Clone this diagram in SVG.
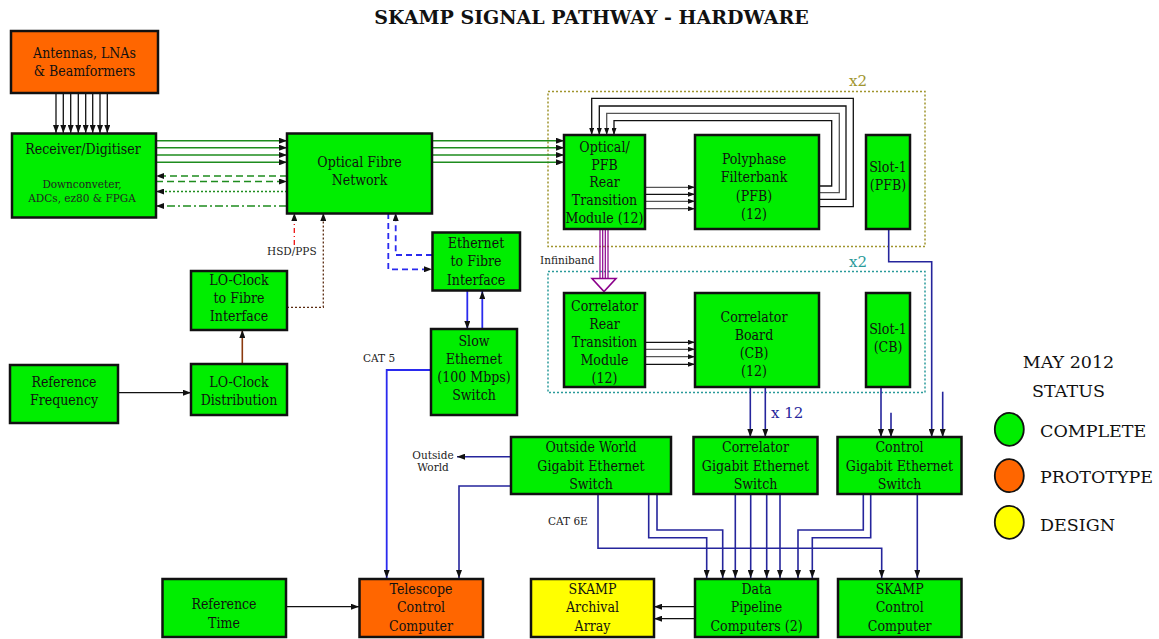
<svg xmlns="http://www.w3.org/2000/svg" width="1159" height="639" viewBox="0 0 1159 639">
<defs>
<style>
.box{stroke:#111;stroke-width:2.5}
.g{fill:#00ee00}
.o{fill:#ff6600}
.y{fill:#ffff00}
.t{font-family:"DejaVu Serif","Liberation Serif",serif;font-stretch:condensed;font-size:14px;fill:#111;text-anchor:middle}
.s{font-family:"DejaVu Serif","Liberation Serif",serif;font-size:10.5px;fill:#222}
.lg{font-family:"DejaVu Serif","Liberation Serif",serif;font-size:17.5px;fill:#111}
.blk{fill:none;stroke:#111;stroke-width:1.3}
.gry{fill:none;stroke:#555;stroke-width:1.3}
.grn{fill:none;stroke:#1e8c1e;stroke-width:1.5}
.blu{fill:none;stroke:#2a2aee;stroke-width:1.8}
.nav{fill:none;stroke:#25259c;stroke-width:1.6}
</style>
<marker id="ah" viewBox="0 0 8 6" refX="8" refY="3" markerWidth="8" markerHeight="6" markerUnits="userSpaceOnUse" orient="auto">
<path d="M0,0 L8,3 L0,6 z" fill="#111"/>
</marker>
<marker id="ahs" viewBox="0 0 7 5" refX="7" refY="2.5" markerWidth="7" markerHeight="5" markerUnits="userSpaceOnUse" orient="auto">
<path d="M0,0 L7,2.5 L0,5 z" fill="#111"/>
</marker>
</defs>
<rect width="1159" height="639" fill="#fff"/>
<text x="591.5" y="24" font-family="DejaVu Serif, Liberation Serif, serif" font-weight="bold" font-size="19" text-anchor="middle" fill="#111">SKAMP SIGNAL PATHWAY - HARDWARE</text>

<g id="groups">
<rect x="548" y="91.5" width="377" height="155" fill="none" stroke="#a0952e" stroke-width="1.5" stroke-dasharray="2,2"/>
<text x="858" y="86" font-family="DejaVu Serif, serif" font-size="15" fill="#a0952e" text-anchor="middle">x2</text>
<rect x="548" y="271.5" width="377" height="121" fill="none" stroke="#2a9a9a" stroke-width="1.5" stroke-dasharray="2,2"/>
<text x="858" y="267" font-family="DejaVu Serif, serif" font-size="15" fill="#2a9a9a" text-anchor="middle">x2</text>
</g>

<g id="connectors">
<g class="blk" marker-end="url(#ah)">
<line x1="56" y1="93" x2="56" y2="133"/><line x1="63.3" y1="93" x2="63.3" y2="133"/><line x1="70.7" y1="93" x2="70.7" y2="133"/><line x1="78.3" y1="93" x2="78.3" y2="133"/>
<line x1="85.7" y1="93" x2="85.7" y2="133"/><line x1="92.7" y1="93" x2="92.7" y2="133"/><line x1="100" y1="93" x2="100" y2="133"/><line x1="107.3" y1="93" x2="107.3" y2="133"/>
</g>
<g class="grn" marker-end="url(#ah)">
<line x1="156" y1="140.7" x2="287" y2="140.7"/><line x1="156" y1="147.7" x2="287" y2="147.7"/><line x1="156" y1="155" x2="287" y2="155"/><line x1="156" y1="162.3" x2="287" y2="162.3"/>
<line x1="287" y1="176" x2="156" y2="176" stroke-dasharray="7,4"/>
<line x1="156" y1="181.5" x2="287" y2="181.5" stroke-dasharray="7,4"/>
<line x1="287" y1="191.5" x2="156" y2="191.5" stroke-dasharray="2,2"/>
<line x1="287" y1="206" x2="156" y2="206" stroke-dasharray="8,3,2,3"/>
<line x1="432" y1="140.7" x2="564" y2="140.7"/><line x1="432" y1="147.7" x2="564" y2="147.7"/><line x1="432" y1="155" x2="564" y2="155"/><line x1="432" y1="162.3" x2="564" y2="162.3"/>
</g>
<line x1="294.3" y1="245" x2="294.3" y2="213" fill="none" stroke="#ee1111" stroke-width="1.3" stroke-dasharray="5,3,1,3" marker-end="url(#ah)"/>
<polyline points="287,307.3 323.3,307.3 323.3,213" fill="none" stroke="#5a2a10" stroke-width="1.3" stroke-dasharray="2,2" marker-end="url(#ah)"/>
<line x1="242.3" y1="364" x2="242.3" y2="330" fill="none" stroke="#8b3a0f" stroke-width="1.6" marker-end="url(#ah)"/>
<line x1="118" y1="392.7" x2="191" y2="392.7" class="blk" stroke-width="1.6" marker-end="url(#ah)"/>
<polyline points="388.3,213 388.3,269.3 432,269.3" class="blu" stroke-dasharray="6,4" marker-end="url(#ah)"/>
<polyline points="432,255 395.7,255 395.7,213" class="blu" stroke-dasharray="6,4" marker-end="url(#ah)"/>
<line x1="467.3" y1="291" x2="467.3" y2="329" class="blu" marker-end="url(#ah)"/>
<line x1="482.3" y1="329" x2="482.3" y2="291" class="blu" marker-end="url(#ah)"/>
<polyline points="431,370 386.7,370 386.7,578" class="blu" stroke-width="1.6" marker-end="url(#ah)"/>
<g marker-end="url(#ahs)">
<line x1="645" y1="187.3" x2="695" y2="187.3" class="gry"/><line x1="645" y1="194.3" x2="695" y2="194.3" class="blk"/>
<line x1="645" y1="201.3" x2="695" y2="201.3" class="gry"/><line x1="645" y1="208.7" x2="695" y2="208.7" class="gry"/>
<polyline points="819,186 831.7,186 831.7,120.7 614,120.7 614,135" class="blk"/>
<polyline points="819,192.7 839.3,192.7 839.3,113.3 606.7,113.3 606.7,135" class="gry"/>
<polyline points="819,199.3 846,199.3 846,106 599.3,106 599.3,135" class="blk"/>
<polyline points="819,206.7 853.3,206.7 853.3,98.3 591.7,98.3 591.7,135" class="blk"/>
<line x1="645" y1="342.3" x2="695" y2="342.3" class="blk"/><line x1="645" y1="349.3" x2="695" y2="349.3" class="gry"/>
<line x1="645" y1="356.7" x2="695" y2="356.7" class="gry"/><line x1="645" y1="364.3" x2="695" y2="364.3" class="blk"/>
</g>
<g stroke="#8b008b" stroke-width="1.2" fill="none">
<line x1="600" y1="229" x2="600" y2="279"/><line x1="602.7" y1="229" x2="602.7" y2="279"/><line x1="605.3" y1="229" x2="605.3" y2="279"/><line x1="608" y1="229" x2="608" y2="279"/>
<polygon points="592,278.5 616,278.5 604,291.5" fill="#fff" stroke-width="1.6"/>
</g>
<g class="nav" marker-end="url(#ah)">
<line x1="750.3" y1="387" x2="750.3" y2="437"/><line x1="765.3" y1="387" x2="765.3" y2="437"/>
<line x1="881" y1="387" x2="881" y2="437"/><line x1="891" y1="412.7" x2="891" y2="437"/>
<polyline points="888.7,229 888.7,261.7 931.7,261.7 931.7,437"/>
<line x1="942.7" y1="391.7" x2="942.7" y2="437"/>
<line x1="511" y1="456.7" x2="457" y2="456.7"/>
<polyline points="511,486 459,486 459,578"/>
<polyline points="598,494 598,548.3 881.7,548.3 881.7,578"/>
<polyline points="648.7,494 648.7,537.7 706.7,537.7 706.7,578"/>
<polyline points="657,494 657,530 722.7,530 722.7,578"/>
<line x1="735.3" y1="494" x2="735.3" y2="578"/><line x1="750.7" y1="494" x2="750.7" y2="578"/>
<line x1="766.7" y1="494" x2="766.7" y2="578"/><line x1="780" y1="494" x2="780" y2="578"/>
<polyline points="863.3,494 863.3,530 798,530 798,578"/>
<polyline points="870.7,494 870.7,537.7 812.3,537.7 812.3,578"/>
<line x1="917.3" y1="494" x2="917.3" y2="578"/>
</g>
<g class="blk" stroke-width="1.6" marker-end="url(#ah)">
<line x1="695" y1="606.7" x2="654" y2="606.7"/><line x1="695" y1="618.7" x2="654" y2="618.7"/>
<line x1="286" y1="606.7" x2="359" y2="606.7"/>
</g>
</g>

<g id="labels">
<text class="s" x="267" y="255">HSD/PPS</text>
<text class="s" x="540" y="264">Infiniband</text>
<text class="s" x="363" y="362">CAT 5</text>
<text class="s" x="548" y="525">CAT 6E</text>
<text class="s" x="433" y="459" text-anchor="middle">Outside</text>
<text class="s" x="433" y="471" text-anchor="middle">World</text>
<text x="771" y="418" font-family="DejaVu Serif, serif" font-size="15" fill="#25259c">x 12</text>
</g>

<g id="antennas"><rect class="box o" x="11" y="31" width="147" height="62"/>
<text class="t" x="84.5" y="58">Antennas, LNAs</text><text class="t" x="84.5" y="76">&amp; Beamformers</text></g>
<g id="receiver"><rect class="box g" x="12" y="133.5" width="144" height="84"/>
<text class="t" x="83" y="154">Receiver/Digitiser</text>
<text class="s" x="82" y="187.5" text-anchor="middle" font-size="10">Downconveter,</text><text class="s" x="82" y="202" text-anchor="middle" font-size="10">ADCs, ez80 &amp; FPGA</text></g>
<g id="optical"><rect class="box g" x="287" y="133.5" width="145" height="80"/>
<text class="t" x="359.5" y="167">Optical Fibre</text><text class="t" x="359.5" y="184.5">Network</text></g>
<g id="pfb-rtm"><rect class="box g" x="564" y="135" width="81" height="94"/>
<text class="t" x="604.5" y="151.5">Optical/</text><text class="t" x="604.5" y="169.5">PFB</text><text class="t" x="604.5" y="187">Rear</text><text class="t" x="604.5" y="205">Transition</text><text class="t" x="604.5" y="223">Module (12)</text></g>
<g id="pfb"><rect class="box g" x="695" y="135" width="124" height="94"/>
<text class="t" x="754" y="164.3">Polyphase</text><text class="t" x="754" y="182.3">Filterbank</text><text class="t" x="754" y="200.7">(PFB)</text><text class="t" x="754" y="218.7">(12)</text></g>
<g id="slot-pfb"><rect class="box g" x="866" y="135" width="44" height="94"/>
<text class="t" x="888" y="171.7">Slot-1</text><text class="t" x="888" y="189.7">(PFB)</text></g>
<g id="corr-rtm"><rect class="box g" x="564" y="293" width="81" height="94"/>
<text class="t" x="604.5" y="311">Correlator</text><text class="t" x="604.5" y="329.3">Rear</text><text class="t" x="604.5" y="347">Transition</text><text class="t" x="604.5" y="365">Module</text><text class="t" x="604.5" y="383">(12)</text></g>
<g id="cb"><rect class="box g" x="695" y="293" width="124" height="94"/>
<text class="t" x="754" y="322.3">Correlator</text><text class="t" x="754" y="340.3">Board</text><text class="t" x="754" y="358.3">(CB)</text><text class="t" x="754" y="376.3">(12)</text></g>
<g id="slot-cb"><rect class="box g" x="866" y="293" width="44" height="94"/>
<text class="t" x="888" y="334.3">Slot-1</text><text class="t" x="888" y="352">(CB)</text></g>
<g id="eth-fibre"><rect class="box g" x="432.5" y="232.5" width="87.5" height="58"/>
<text class="t" x="476" y="248.3">Ethernet</text><text class="t" x="476" y="266.3">to Fibre</text><text class="t" x="476" y="285.3">Interface</text></g>
<g id="slow-eth"><rect class="box g" x="431" y="329" width="86" height="86"/>
<text class="t" x="474" y="346">Slow</text><text class="t" x="474" y="364">Ethernet</text><text class="t" x="474" y="382.3">(100 Mbps)</text><text class="t" x="474" y="400.3">Switch</text></g>
<g id="lo-fibre"><rect class="box g" x="191" y="271" width="96" height="59"/>
<text class="t" x="239" y="285">LO-Clock</text><text class="t" x="239" y="303">to Fibre</text><text class="t" x="239" y="321">Interface</text></g>
<g id="lo-dist"><rect class="box g" x="191" y="364" width="96" height="51"/>
<text class="t" x="239" y="386.7">LO-Clock</text><text class="t" x="239" y="404.7">Distribution</text></g>
<g id="ref-freq"><rect class="box g" x="10" y="365" width="108" height="58"/>
<text class="t" x="64" y="386.7">Reference</text><text class="t" x="64" y="404.7">Frequency</text></g>
<g id="ow-switch"><rect class="box g" x="511" y="437" width="160" height="57"/>
<text class="t" x="591" y="452.3">Outside World</text><text class="t" x="591" y="471">Gigabit Ethernet</text><text class="t" x="591" y="489">Switch</text></g>
<g id="corr-switch"><rect class="box g" x="693.5" y="437" width="124" height="57"/>
<text class="t" x="755.5" y="452.3">Correlator</text><text class="t" x="755.5" y="471">Gigabit Ethernet</text><text class="t" x="755.5" y="489">Switch</text></g>
<g id="ctrl-switch"><rect class="box g" x="837.5" y="437" width="124" height="57"/>
<text class="t" x="899.5" y="452.3">Control</text><text class="t" x="899.5" y="471">Gigabit Ethernet</text><text class="t" x="899.5" y="489">Switch</text></g>
<g id="ref-time"><rect class="box g" x="162.5" y="579" width="123.5" height="58"/>
<text class="t" x="224" y="609">Reference</text><text class="t" x="224" y="628.3">Time</text></g>
<g id="tcc"><rect class="box o" x="359.5" y="579" width="123.5" height="58"/>
<text class="t" x="421" y="594">Telescope</text><text class="t" x="421" y="612.3">Control</text><text class="t" x="421" y="630.7">Computer</text></g>
<g id="archive"><rect class="box y" x="531" y="579" width="123" height="58"/>
<text class="t" x="592.5" y="594">SKAMP</text><text class="t" x="592.5" y="612.3">Archival</text><text class="t" x="592.5" y="630.7">Array</text></g>
<g id="pipeline"><rect class="box g" x="695" y="579" width="123" height="58"/>
<text class="t" x="756.5" y="594">Data</text><text class="t" x="756.5" y="612.3">Pipeline</text><text class="t" x="756.5" y="630.7">Computers (2)</text></g>
<g id="skamp-ctrl"><rect class="box g" x="838" y="579" width="123.5" height="58"/>
<text class="t" x="899.7" y="594">SKAMP</text><text class="t" x="899.7" y="612.3">Control</text><text class="t" x="899.7" y="630.7">Computer</text></g>

<g id="legend">
<text class="lg" x="1068.5" y="368" font-size="20" text-anchor="middle">MAY 2012</text>
<text class="lg" x="1068.5" y="397" font-size="20" text-anchor="middle">STATUS</text>
<ellipse cx="1009.3" cy="429.3" rx="14.5" ry="16.5" fill="#00ee00" stroke="#111" stroke-width="1.8"/>
<text class="lg" x="1040" y="436.7">COMPLETE</text>
<ellipse cx="1009.3" cy="475.7" rx="14.5" ry="16.5" fill="#ff6600" stroke="#111" stroke-width="1.8"/>
<text class="lg" x="1040" y="483.3">PROTOTYPE</text>
<ellipse cx="1009.3" cy="522.3" rx="14.5" ry="16.5" fill="#ffff00" stroke="#111" stroke-width="1.8"/>
<text class="lg" x="1040" y="530.5">DESIGN</text>
</g>
</svg>
